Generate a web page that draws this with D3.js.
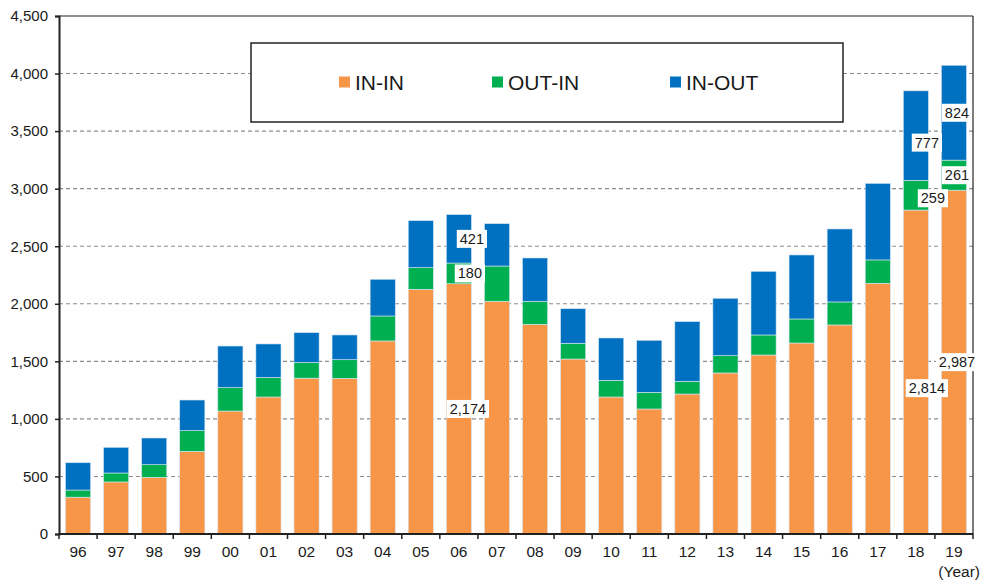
<!DOCTYPE html>
<meta charset="utf-8">
<style>
  body { margin: 0; background: #fff; }
  svg text { font-family: "Liberation Sans", Arial, sans-serif; fill: #1a1a1a; }
</style>
<script src="https://d3js.org/d3.v7.min.js"></script>
<svg id="chart" width="983" height="582"></svg>
<script>
// data
const years = ["96","97","98","99","00","01","02","03","04","05","06","07","08","09","10","11","12","13","14","15","16","17","18","19"];
const inIn  = [320, 452, 492, 718, 1068, 1190, 1354, 1352, 1677, 2126, 2174, 2022, 1822, 1520, 1190, 1086, 1216, 1399, 1555, 1659, 1816, 2178, 2814, 2987];
const outIn = [62, 78, 110, 180, 203, 170, 136, 162, 217, 188, 180, 306, 200, 137, 145, 145, 111, 150, 174, 209, 200, 203, 259, 261];
const inOut = [237, 223, 232, 266, 362, 291, 259, 215, 319, 408, 421, 368, 376, 300, 368, 452, 518, 499, 553, 556, 634, 665, 777, 824];
const seriesNames = ["IN-IN", "OUT-IN", "IN-OUT"];
const yTicks = [0, 500, 1000, 1500, 2000, 2500, 3000, 3500, 4000, 4500];
// which segments carry a value label
const labelled = [["06", 0], ["06", 1], ["06", 2], ["18", 0], ["18", 1], ["18", 2], ["19", 0], ["19", 1], ["19", 2]];

const colors = ["#F79646", "#00B050", "#0070C0"];
// nudges for the manually moved labels
const nudge = {"06": [[9, 0], [11, 0], [13, 0]], "18": [[11, 16], [17, 3], [11, 7]], "19": [[3, 0], [3, 0], [3, 0]]};

const svg = d3.select("#chart");
const L = 59, R = 973, T = 16, B = 534;

const table = years.map((y, i) => ({year: y, "IN-IN": inIn[i], "OUT-IN": outIn[i], "IN-OUT": inOut[i]}));
const stack = d3.stack().keys(seriesNames)(table);

const x = d3.scaleBand().domain(years).range([L, R]).paddingInner(0.34).paddingOuter(0.17);
const y = d3.scaleLinear().domain([0, 4500]).range([B, T]);
const step = x.step(), off = (step - x.bandwidth()) / 2;

// grid
svg.append("g").selectAll("line")
  .data(yTicks.filter(t => t > 0 && t < 4500))
  .join("line")
  .attr("x1", L).attr("x2", R)
  .attr("y1", d => y(d)).attr("y2", d => y(d))
  .attr("stroke", "#8c8c8c").attr("stroke-width", 1.1)
  .attr("stroke-dasharray", "4,3");

// frame top / right
svg.append("line").attr("x1", L).attr("x2", R).attr("y1", T).attr("y2", T).attr("stroke", "#222").attr("stroke-width", 1.2);
svg.append("line").attr("x1", R).attr("x2", R).attr("y1", T).attr("y2", B).attr("stroke", "#222").attr("stroke-width", 1.2);

// bars
svg.append("g").selectAll("g")
  .data(stack)
  .join("g")
  .attr("fill", (d, i) => colors[i])
  .selectAll("rect")
  .data(d => d)
  .join("rect")
  .attr("x", d => x(d.data.year))
  .attr("width", x.bandwidth())
  .attr("y", d => y(d[1]))
  .attr("height", d => y(d[0]) - y(d[1]))
  .attr("stroke", "#d6e6f5").attr("stroke-width", 0.6);

// y axis
const yAxis = svg.append("g").attr("transform", `translate(${L},0)`)
  .call(d3.axisLeft(y).tickValues(yTicks).tickSize(4).tickFormat(d3.format(",")));
yAxis.select(".domain").attr("stroke", "#222").attr("stroke-width", 2);
yAxis.selectAll(".tick line").attr("stroke", "#222").attr("stroke-width", 1.5);
yAxis.selectAll("text").attr("font-size", 15).attr("x", -11).style("font-family", "Liberation Sans, Arial, sans-serif").attr("fill", "#1a1a1a");

// x axis
const xg = svg.append("g");
xg.append("line").attr("x1", L).attr("x2", R).attr("y1", B).attr("y2", B).attr("stroke", "#222").attr("stroke-width", 2);
xg.selectAll("line.tk")
  .data(years.concat(["end"]))
  .join("line").attr("class", "tk")
  .attr("x1", d => d === "end" ? R : x(d) - off)
  .attr("x2", d => d === "end" ? R : x(d) - off)
  .attr("y1", B).attr("y2", B + 5)
  .attr("stroke", "#222").attr("stroke-width", 1.5);
xg.selectAll("text")
  .data(years)
  .join("text")
  .attr("x", d => x(d) + x.bandwidth() / 2)
  .attr("y", 557)
  .attr("text-anchor", "middle")
  .attr("font-size", 15.5)
  .text(d => d);
svg.append("text").attr("x", 980).attr("y", 577).attr("text-anchor", "end").attr("font-size", 15.5).text("(Year)");

// value labels
const lab = svg.append("g").selectAll("g")
  .data(labelled)
  .join("g")
  .attr("transform", ([yr, s]) => {
    const seg = stack[s][years.indexOf(yr)];
    const n = nudge[yr][s];
    return `translate(${x(yr) + x.bandwidth() / 2 + n[0]},${(y(seg[0]) + y(seg[1])) / 2 + n[1]})`;
  });
lab.append("text")
  .attr("text-anchor", "middle")
  .attr("dy", "0.35em")
  .attr("font-size", 14.5)
  .text(([yr, s]) => d3.format(",")(table[years.indexOf(yr)][seriesNames[s]]));
lab.each(function() {
  const g = d3.select(this), bb = g.select("text").node().getBBox();
  g.insert("rect", "text")
    .attr("x", bb.x - 3).attr("y", bb.y - 1)
    .attr("width", bb.width + 6).attr("height", bb.height + 2)
    .attr("fill", "#fff");
});

// legend
const lg = svg.append("g");
lg.append("rect").attr("x", 251).attr("y", 43).attr("width", 592).attr("height", 79)
  .attr("fill", "#fff").attr("stroke", "#222").attr("stroke-width", 1.5);
const legX = [339, 492, 670];
const item = lg.selectAll("g").data(seriesNames).join("g")
  .attr("transform", (d, i) => `translate(${legX[i]},82)`);
item.append("rect").attr("x", 0).attr("y", -5.5).attr("width", 11).attr("height", 11).attr("fill", (d, i) => colors[i]);
item.append("text").attr("x", 16).attr("dy", "0.36em").attr("font-size", 21).text(d => d);
</script>
